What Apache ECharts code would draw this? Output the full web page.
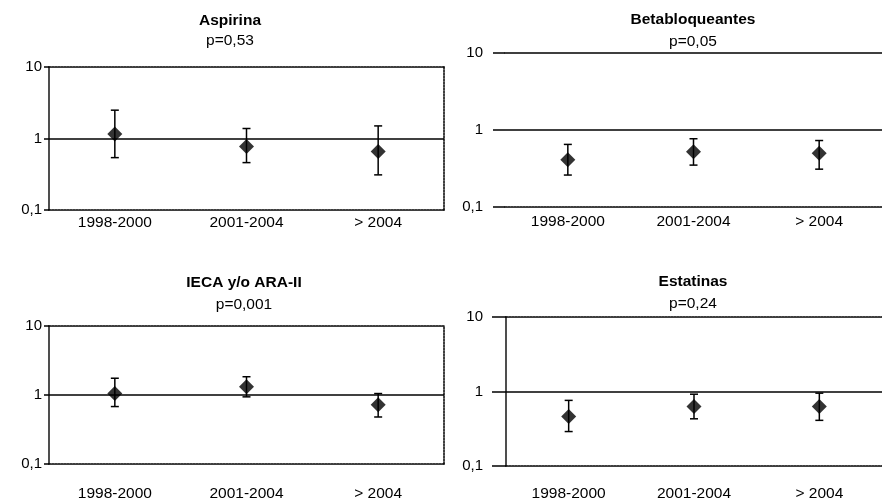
<!DOCTYPE html>
<html>
<head>
<meta charset="utf-8">
<script src="https://cdn.jsdelivr.net/npm/echarts@6/dist/echarts.min.js"></script>
<style>
  html, body { margin: 0; padding: 0; background: #fff; }
  #chart { width: 882px; height: 502px; }
</style>
</head>
<body>
<div id="chart"></div>
<script>
const categories = ['1998-2000', '2001-2004', '> 2004'];
const titles = ['Aspirina', 'Betabloqueantes', 'IECA y/o ARA-II', 'Estatinas'];
const pValues = ['p=0,53', 'p=0,05', 'p=0,001', 'p=0,24'];
const yTickLabels = ['0,1', '1', '10'];

// odds ratio and 95% CI
const aspirinaOR = [1.16, 0.77, 0.66];
const aspirinaLow = [0.54, 0.46, 0.31];
const aspirinaHigh = [2.49, 1.38, 1.5];

const betaOR = [0.41, 0.52, 0.5];
const betaLow = [0.26, 0.35, 0.31];
const betaHigh = [0.65, 0.77, 0.73];

const iecaOR = [1.05, 1.32, 0.72];
const iecaLow = [0.68, 0.94, 0.48];
const iecaHigh = [1.75, 1.84, 1.05];

const estatinasOR = [0.46, 0.63, 0.63];
const estatinasLow = [0.29, 0.43, 0.41];
const estatinasHigh = [0.76, 0.92, 0.95];

const panelData = [
  [aspirinaOR, aspirinaLow, aspirinaHigh],
  [betaOR, betaLow, betaHigh],
  [iecaOR, iecaLow, iecaHigh],
  [estatinasOR, estatinasLow, estatinasHigh]
];

// layout per panel
const panels = [
  { grid: { left: 49, top: 67, width: 395, height: 143 }, tick: 5, yMargin: 7, xMargin: 5,
    topSolid: false, leftAxis: true, rightBorder: true, tx: 230, ty: 21, py: 41 },
  { grid: { left: 505, top: 53, width: 390, height: 154 }, tick: 12, yMargin: 22, xMargin: 7,
    topSolid: true, leftAxis: false, rightBorder: false, tx: 693, ty: 20, py: 42 },
  { grid: { left: 49, top: 326, width: 395, height: 143 }, tick: 5, yMargin: 7, xMargin: 22,
    topSolid: false, leftAxis: true, rightBorder: true, tx: 244, ty: 283, py: 305 },
  { grid: { left: 506, top: 317, width: 388, height: 154 }, tick: 14, yMargin: 23, xMargin: 20,
    topSolid: false, leftAxis: true, rightBorder: false, tx: 693, ty: 282, py: 304 }
];

const FONT = 'Helvetica, "Liberation Sans", Arial, sans-serif';
const LW = 1.5;
const dashed = { color: '#000', width: LW, type: [2, 1] };
const solid = { color: '#000', width: LW, type: 'solid' };

const grid = [], xAxis = [], yAxis = [], series = [], graphic = [];

panels.forEach((p, i) => {
  grid.push(Object.assign({ containLabel: false }, p.grid));
  // bottom axis (0.1 line)
  xAxis.push({
    type: 'category', gridIndex: i, data: categories, position: 'bottom',
    axisLine: { show: true, lineStyle: dashed },
    axisTick: { show: false },
    axisLabel: { color: '#000', fontSize: 15.5, fontFamily: FONT, margin: p.xMargin }
  });
  // top axis (10 line)
  xAxis.push({
    type: 'category', gridIndex: i, data: categories, position: 'top',
    axisLine: { show: true, lineStyle: p.topSolid ? solid : dashed },
    axisTick: { show: false }, axisLabel: { show: false }
  });
  yAxis.push({
    type: 'log', logBase: 10, gridIndex: i, min: 0.1, max: 10, position: 'left',
    axisLine: { show: p.leftAxis, lineStyle: { color: '#222', width: 1.6 } },
    axisTick: { show: true, length: p.tick, lineStyle: { color: '#000', width: LW } },
    splitLine: { show: false },
    axisLabel: {
      color: '#000', fontSize: 15, fontFamily: FONT, margin: p.yMargin,
      formatter: v => yTickLabels[Math.round(Math.log10(v)) + 1]
    }
  });
  yAxis.push({
    type: 'log', logBase: 10, gridIndex: i, min: 0.1, max: 10, position: 'right',
    axisLine: { show: p.rightBorder, lineStyle: dashed },
    axisTick: { show: false }, axisLabel: { show: false }, splitLine: { show: false }
  });

  const [or, low, high] = panelData[i];
  series.push({
    type: 'custom', xAxisIndex: i * 2, yAxisIndex: i * 2, z: 2,
    data: categories.map((c, k) => [k, low[k], high[k]]),
    encode: { x: 0, y: [1, 2] },
    renderItem: (params, api) => {
      const lo = api.coord([api.value(0), api.value(1)]);
      const hi = api.coord([api.value(0), api.value(2)]);
      const w = 4;
      const st = { stroke: '#000', lineWidth: LW };
      return {
        type: 'group',
        children: [
          { type: 'line', shape: { x1: lo[0], y1: lo[1], x2: hi[0], y2: hi[1] }, style: st },
          { type: 'line', shape: { x1: lo[0] - w, y1: lo[1], x2: lo[0] + w, y2: lo[1] }, style: st },
          { type: 'line', shape: { x1: hi[0] - w, y1: hi[1], x2: hi[0] + w, y2: hi[1] }, style: st }
        ]
      };
    },
    silent: true
  });
  series.push({
    type: 'scatter', xAxisIndex: i * 2, yAxisIndex: i * 2, z: 3,
    data: or,
    symbol: 'diamond', symbolSize: 15,
    itemStyle: { color: '#000' },
    markLine: {
      silent: true, symbol: 'none', label: { show: false },
      lineStyle: solid,
      data: [{ yAxis: 1 }]
    }
  });

  graphic.push({
    type: 'text', x: p.tx, y: p.ty,
    style: { text: titles[i], fill: '#000', font: 'bold 15.5px ' + FONT, textAlign: 'center', textVerticalAlign: 'middle' }
  });
  graphic.push({
    type: 'text', x: p.tx, y: p.py,
    style: { text: pValues[i], fill: '#000', font: '15.5px ' + FONT, textAlign: 'center', textVerticalAlign: 'middle' }
  });
});

const chart = echarts.init(document.getElementById('chart'));
chart.setOption({
  animation: false,
  backgroundColor: '#fff',
  grid, xAxis, yAxis, series, graphic
});
</script>
</body>
</html>
